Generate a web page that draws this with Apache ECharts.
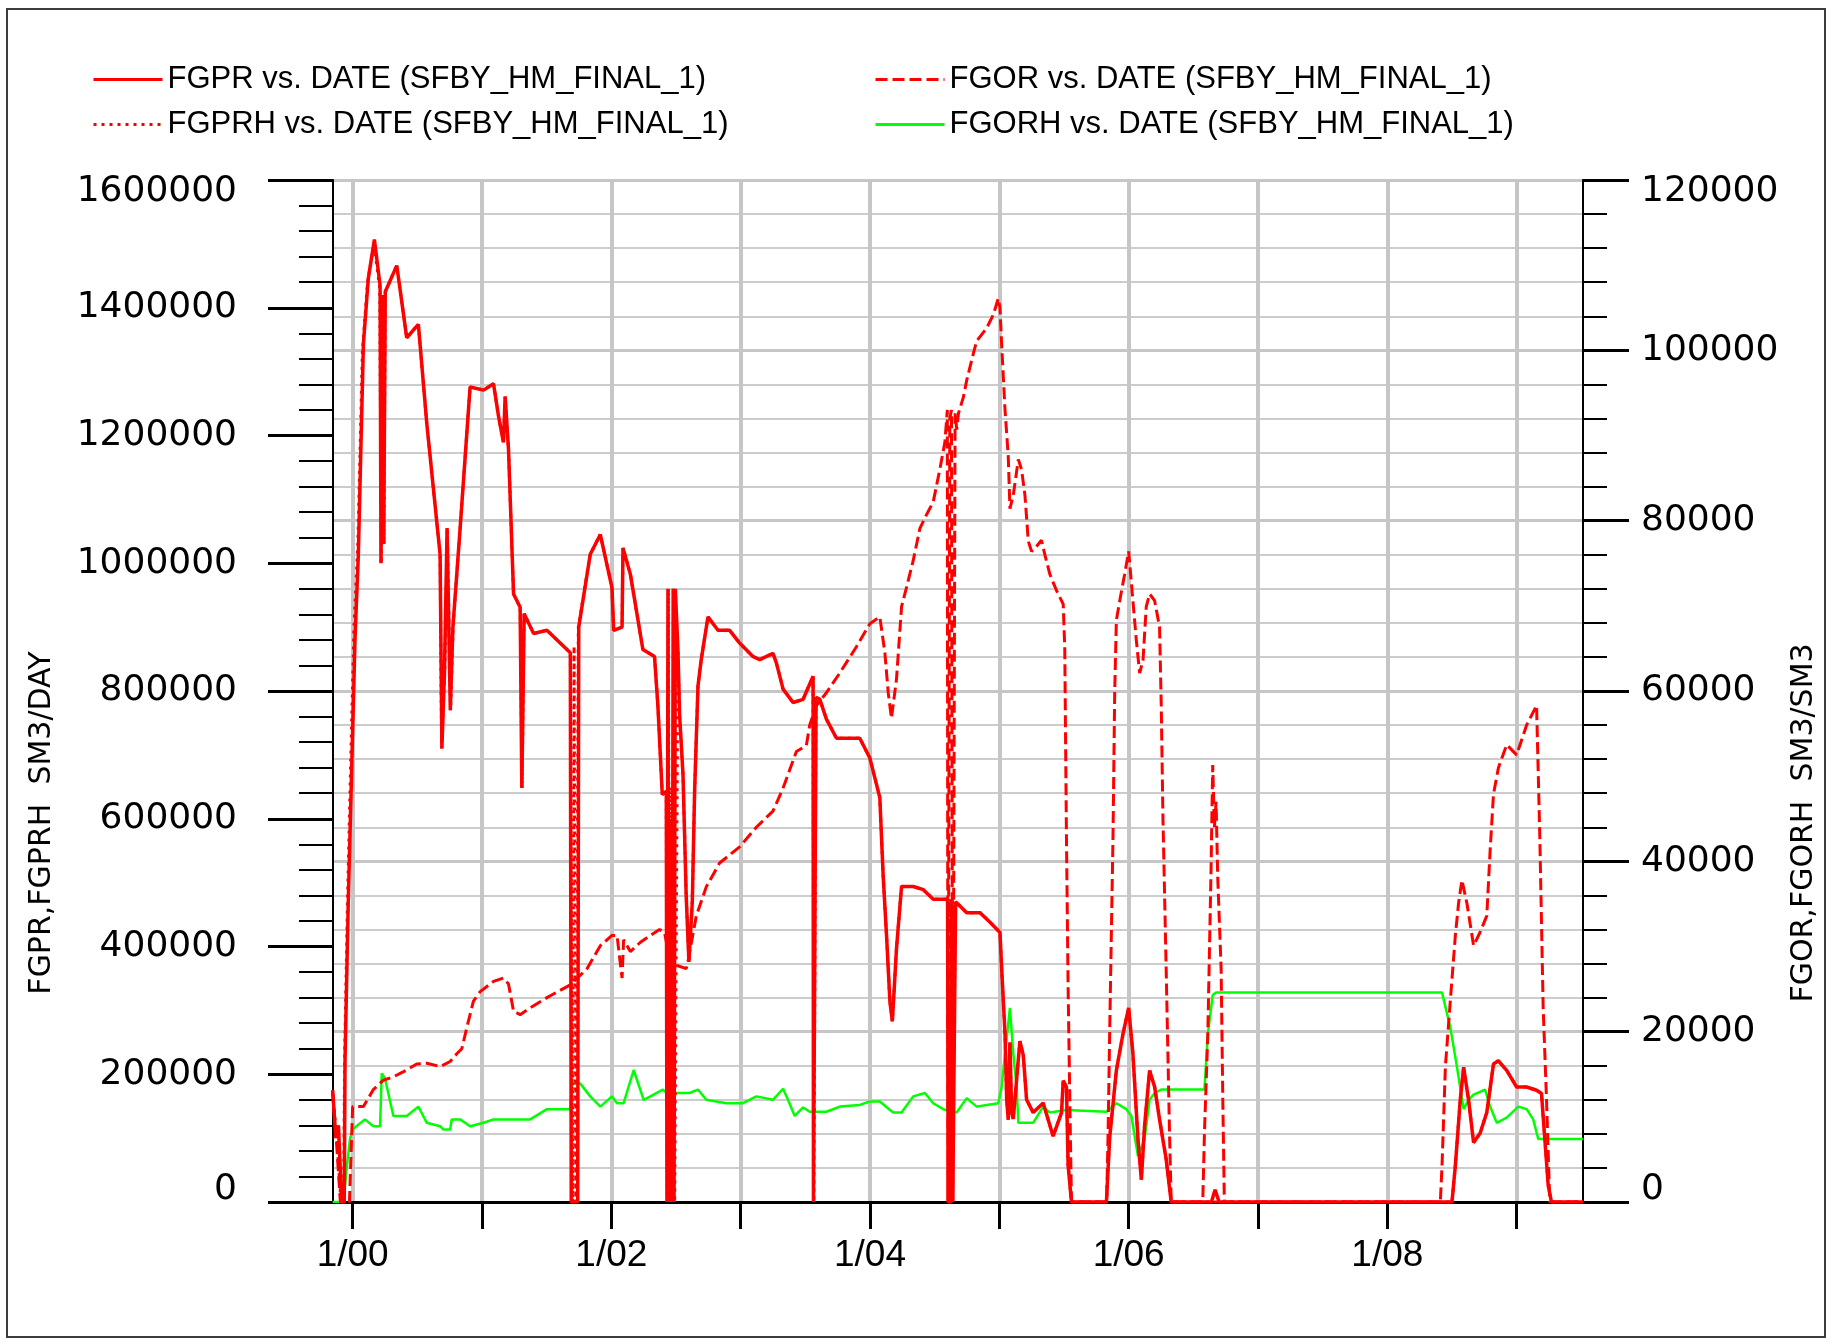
<!DOCTYPE html>
<html><head><meta charset="utf-8">
<script src="https://cdn.jsdelivr.net/npm/echarts@6/dist/echarts.min.js"></script>
<style>html,body{margin:0;padding:0;background:#fff}#chart{width:1832px;height:1340px}</style>
</head><body><div id="chart"></div>
<script>
// ---------- data (dates as decimal years) ----------
const seriesNames = ['FGPR vs. DATE (SFBY_HM_FINAL_1)', 'FGPRH vs. DATE (SFBY_HM_FINAL_1)', 'FGOR vs. DATE (SFBY_HM_FINAL_1)', 'FGORH vs. DATE (SFBY_HM_FINAL_1)'];
const leftAxisName = 'FGPR,FGPRH  SM3/DAY';
const rightAxisName = 'FGOR,FGORH  SM3/SM3';
const xMin = 1999.848, xMax = 2009.513;
const xTickYears = [2000, 2001, 2002, 2003, 2004, 2005, 2006, 2007, 2008, 2009];
const xLabelYears = [2000, 2002, 2004, 2006, 2008];
const xLabelTexts = ['1/00', '1/02', '1/04', '1/06', '1/08'];
const leftMax = 1600000, leftStep = 200000;
const rightMax = 120000, rightStep = 20000;

const fgprDates = [
1999.845, 1999.870, 1999.890, 1999.915, 1999.935, 1999.941, 1999.966, 1999.992, 2000.018, 2000.044,
2000.083, 2000.121, 2000.168, 2000.212, 2000.219, 2000.230, 2000.240, 2000.252, 2000.341, 2000.418,
2000.508, 2000.573, 2000.676, 2000.690, 2000.710, 2000.730, 2000.755, 2000.775, 2000.831, 2000.908,
2001.012, 2001.089, 2001.128, 2001.166, 2001.179, 2001.205, 2001.244, 2001.295, 2001.308, 2001.326,
2001.399, 2001.502, 2001.683, 2001.690, 2001.740, 2001.748, 2001.760, 2001.837, 2001.915, 2002.005,
2002.018, 2002.083, 2002.090, 2002.147, 2002.244, 2002.334, 2002.360, 2002.394, 2002.425, 2002.430,
2002.438, 2002.444, 2002.455, 2002.470, 2002.478, 2002.485, 2002.495, 2002.515, 2002.528, 2002.554,
2002.579, 2002.600, 2002.626, 2002.644, 2002.657, 2002.670, 2002.695, 2002.747, 2002.825, 2002.915,
2002.992, 2003.095, 2003.147, 2003.250, 2003.276, 2003.328, 2003.405, 2003.483, 2003.560, 2003.563,
2003.578, 2003.583, 2003.612, 2003.663, 2003.741, 2003.921, 2003.999, 2004.076, 2004.102, 2004.128,
2004.154, 2004.173, 2004.205, 2004.244, 2004.334, 2004.412, 2004.489, 2004.600, 2004.605, 2004.625,
2004.632, 2004.640, 2004.655, 2004.662, 2004.748, 2004.851, 2004.928, 2005.005, 2005.018, 2005.044,
2005.057, 2005.069, 2005.082, 2005.095, 2005.108, 2005.159, 2005.185, 2005.211, 2005.262, 2005.339,
2005.416, 2005.481, 2005.494, 2005.519, 2005.532, 2005.558, 2005.828, 2005.853, 2005.905, 2005.956,
2006.000, 2006.033, 2006.072, 2006.098, 2006.123, 2006.162, 2006.201, 2006.239, 2006.290, 2006.329,
2006.640, 2006.668, 2006.700, 2008.500, 2008.526, 2008.564, 2008.590, 2008.628, 2008.667, 2008.718,
2008.769, 2008.821, 2008.859, 2008.923, 2009.000, 2009.077, 2009.154, 2009.192, 2009.218, 2009.244,
2009.269, 2009.513];
const fgprValues = [
175000, 100000, 120000, 0, 0, 222000, 469000, 675000, 880000, 1014000,
1343000, 1446000, 1507000, 1435000, 1000000, 1420000, 1030000, 1425000, 1466000, 1353000,
1374000, 1219000, 1014000, 710000, 830000, 1055000, 770000, 900000, 1055000, 1276000,
1271000, 1281000, 1230000, 1189000, 1261000, 1178000, 952000, 931000, 648000, 921000,
890000, 895000, 860000, 0, 0, 900000, 900000, 1014000, 1045000, 962000,
895000, 900000, 1024000, 983000, 865000, 854000, 777000, 638000, 643000, 0,
960000, 0, 600000, 0, 960000, 0, 960000, 865000, 762000, 670000,
479000, 376000, 469000, 643000, 726000, 808000, 849000, 916000, 895000, 895000,
875000, 854000, 849000, 859000, 844000, 803000, 782000, 787000, 823000, 0,
0, 790000, 787000, 756000, 726000, 726000, 695000, 633000, 510000, 417000,
314000, 283000, 397000, 494000, 494000, 489000, 474000, 474000, 0, 0,
474000, 0, 0, 470000, 453000, 453000, 438000, 422000, 366000, 263000,
160000, 129000, 250000, 140000, 130000, 252000, 230000, 160000, 140000, 155000,
103000, 140000, 190000, 180000, 57000, 0, 0, 100000, 206000, 263000,
304000, 232000, 98000, 35000, 119000, 206000, 180000, 129000, 67000, 0,
0, 19000, 0, 0, 57000, 160000, 211000, 160000, 93000, 108000,
140000, 216000, 221000, 206000, 180000, 180000, 175000, 170000, 98000, 26000,
0, 0];

const fgprhDates = [
1999.845, 1999.880, 1999.910, 1999.930, 1999.938, 1999.960, 1999.985, 2000.010, 2000.040, 2000.075,
2000.115, 2000.165, 2000.210, 2000.221, 2000.232, 2000.242, 2000.252, 2000.341, 2000.418, 2000.508,
2000.573, 2000.676, 2000.688, 2000.712, 2000.732, 2000.757, 2000.777, 2000.831, 2000.908, 2001.012,
2001.089, 2001.128, 2001.166, 2001.179, 2001.205, 2001.244, 2001.295, 2001.310, 2001.326, 2001.399,
2001.502, 2001.683, 2001.700, 2001.712, 2001.725, 2001.745, 2001.760, 2001.837, 2001.915, 2002.005,
2002.018, 2002.083, 2002.090, 2002.147, 2002.244, 2002.334, 2002.360, 2002.394, 2002.425, 2002.433,
2002.441, 2002.450, 2002.462, 2002.474, 2002.482, 2002.490, 2002.515, 2002.528, 2002.554, 2002.579,
2002.600, 2002.626, 2002.644, 2002.657, 2002.670, 2002.695, 2002.747, 2002.825, 2002.915, 2002.992,
2003.095, 2003.147, 2003.250, 2003.276, 2003.328, 2003.405, 2003.483, 2003.560, 2003.566, 2003.575,
2003.583, 2003.612, 2003.663, 2003.741, 2003.921, 2003.999, 2004.076, 2004.102, 2004.128, 2004.154,
2004.173, 2004.205, 2004.244, 2004.334, 2004.412, 2004.489, 2004.600, 2004.610, 2004.620, 2004.635,
2004.648, 2004.662, 2004.748, 2004.851, 2004.928, 2005.005, 2005.018, 2005.044, 2005.057, 2005.069,
2005.082, 2005.095, 2005.108, 2005.159, 2005.185, 2005.211, 2005.262, 2005.339, 2005.416, 2005.481,
2005.494, 2005.519, 2005.532, 2005.558, 2005.828, 2005.853, 2005.905, 2005.956, 2006.000, 2006.033,
2006.072, 2006.098, 2006.123, 2006.162, 2006.201, 2006.239, 2006.290, 2006.329, 2008.500, 2008.526,
2008.564, 2008.590, 2008.628, 2008.667, 2008.718, 2008.769, 2008.821, 2008.859, 2008.923, 2009.000,
2009.077, 2009.154, 2009.192, 2009.218, 2009.244, 2009.269, 2009.513];
const fgprhValues = [
170000, 90000, 0, 0, 230000, 470000, 690000, 900000, 1030000, 1330000,
1440000, 1500000, 1430000, 1000000, 1420000, 1030000, 1425000, 1466000, 1353000, 1374000,
1219000, 1014000, 710000, 830000, 1055000, 770000, 900000, 1055000, 1276000, 1271000,
1281000, 1230000, 1189000, 1261000, 1178000, 952000, 931000, 648000, 921000, 890000,
895000, 860000, 0, 870000, 0, 900000, 900000, 1014000, 1045000, 962000,
895000, 900000, 1024000, 983000, 865000, 854000, 777000, 638000, 643000, 0,
960000, 0, 650000, 0, 960000, 0, 865000, 762000, 670000, 479000,
376000, 469000, 643000, 726000, 808000, 849000, 916000, 895000, 895000, 875000,
854000, 849000, 859000, 844000, 803000, 782000, 787000, 823000, 0, 0,
790000, 787000, 756000, 726000, 726000, 695000, 633000, 510000, 417000, 314000,
283000, 397000, 494000, 494000, 489000, 474000, 474000, 0, 474000, 0,
0, 470000, 453000, 453000, 438000, 422000, 366000, 263000, 160000, 129000,
250000, 140000, 130000, 252000, 230000, 160000, 140000, 155000, 103000, 140000,
190000, 180000, 57000, 0, 0, 100000, 206000, 263000, 304000, 232000,
98000, 35000, 119000, 206000, 180000, 129000, 67000, 0, 0, 57000,
160000, 211000, 160000, 93000, 108000, 140000, 216000, 221000, 206000, 180000,
180000, 175000, 170000, 98000, 26000, 0, 0];

const fgorDates = [
1999.845, 1999.875, 1999.905, 1999.975, 2000.000, 2000.083, 2000.160, 2000.237, 2000.315, 2000.418,
2000.495, 2000.573, 2000.676, 2000.754, 2000.805, 2000.844, 2000.883, 2000.934, 2000.986, 2001.089,
2001.166, 2001.205, 2001.244, 2001.295, 2001.373, 2001.502, 2001.683, 2001.812, 2001.915, 2002.005,
2002.044, 2002.083, 2002.095, 2002.147, 2002.225, 2002.302, 2002.373, 2002.412, 2002.437, 2002.445,
2002.460, 2002.476, 2002.502, 2002.579, 2002.592, 2002.657, 2002.734, 2002.837, 2002.992, 2003.121,
2003.250, 2003.328, 2003.431, 2003.508, 2003.534, 2003.586, 2003.663, 2003.766, 2003.895, 2003.999,
2004.076, 2004.115, 2004.141, 2004.166, 2004.205, 2004.244, 2004.283, 2004.334, 2004.386, 2004.437,
2004.489, 2004.541, 2004.579, 2004.598, 2004.603, 2004.612, 2004.617, 2004.630, 2004.640, 2004.650,
2004.658, 2004.671, 2004.684, 2004.722, 2004.748, 2004.799, 2004.825, 2004.902, 2004.954, 2004.992,
2005.005, 2005.018, 2005.044, 2005.069, 2005.082, 2005.108, 2005.147, 2005.172, 2005.198, 2005.224,
2005.249, 2005.288, 2005.326, 2005.352, 2005.391, 2005.442, 2005.494, 2005.506, 2005.519, 2005.532,
2005.545, 2005.558, 2005.830, 2005.841, 2005.853, 2005.879, 2005.892, 2005.905, 2005.931, 2005.969,
2006.000, 2006.033, 2006.059, 2006.085, 2006.111, 2006.136, 2006.162, 2006.201, 2006.239, 2006.252,
2006.265, 2006.290, 2006.316, 2006.329, 2006.573, 2006.586, 2006.612, 2006.637, 2006.650, 2006.663,
2006.676, 2006.689, 2006.715, 2006.728, 2006.740, 2008.410, 2008.423, 2008.449, 2008.487, 2008.526,
2008.551, 2008.577, 2008.615, 2008.667, 2008.718, 2008.769, 2008.795, 2008.821, 2008.859, 2008.923,
2009.000, 2009.077, 2009.154, 2009.179, 2009.205, 2009.231, 2009.256, 2009.513];
const fgorValues = [
13000, 7000, 0, 0, 11200, 11200, 13200, 14300, 14700, 15500,
16200, 16300, 15900, 16500, 17400, 18000, 20500, 23600, 24700, 25900,
26300, 25600, 22400, 22000, 22800, 24000, 25500, 27400, 30100, 31300,
31300, 26300, 30800, 29400, 30500, 31300, 32000, 31600, 29600, 19500,
28000, 28500, 27800, 27400, 28200, 33600, 37000, 39800, 41700, 44000,
45900, 48600, 52900, 53600, 56000, 58300, 59800, 62100, 65200, 67900,
68700, 64500, 59800, 56800, 61400, 69900, 72200, 75300, 79100, 80700,
82200, 86100, 89200, 93000, 0, 0, 92000, 93000, 0, 0,
92600, 90700, 92600, 94500, 96500, 99600, 101100, 102600, 104200, 106100,
105000, 100700, 93000, 87600, 81400, 83000, 87200, 86000, 83000, 77600,
76400, 77000, 77700, 76000, 73700, 71800, 70200, 65000, 42900, 25100,
12000, 0, 0, 8100, 19700, 42900, 59800, 68300, 70600, 73700,
76400, 70600, 66000, 62100, 63600, 69900, 71400, 70600, 67500, 58300,
45200, 27400, 8100, 0, 0, 8100, 19700, 39000, 51300, 44000,
47000, 38000, 27400, 12000, 0, 0, 4300, 15900, 23600, 31300,
35100, 37800, 35100, 30100, 31700, 33600, 41300, 47900, 51000, 53700,
52500, 56000, 58300, 42900, 22800, 12000, 0, 0];

const fgorhDates = [
1999.845, 1999.930, 1999.954, 1999.980, 2000.005, 2000.095, 2000.160, 2000.212, 2000.225, 2000.250,
2000.315, 2000.418, 2000.508, 2000.573, 2000.676, 2000.702, 2000.754, 2000.766, 2000.831, 2000.908,
2001.012, 2001.089, 2001.373, 2001.502, 2001.683, 2001.695, 2001.760, 2001.837, 2001.915, 2002.005,
2002.044, 2002.095, 2002.173, 2002.250, 2002.302, 2002.399, 2002.425, 2002.605, 2002.670, 2002.734,
2002.889, 2003.018, 2003.121, 2003.250, 2003.328, 2003.366, 2003.418, 2003.483, 2003.534, 2003.663,
2003.766, 2003.921, 2003.999, 2004.076, 2004.179, 2004.244, 2004.334, 2004.425, 2004.489, 2004.566,
2004.670, 2004.748, 2004.825, 2004.902, 2004.992, 2005.018, 2005.044, 2005.082, 2005.108, 2005.134,
2005.147, 2005.262, 2005.339, 2005.391, 2005.519, 2005.828, 2005.905, 2005.982, 2006.021, 2006.072,
2006.123, 2006.162, 2006.201, 2006.252, 2006.586, 2006.612, 2006.650, 2006.676, 2008.423, 2008.487,
2008.538, 2008.590, 2008.628, 2008.667, 2008.756, 2008.795, 2008.846, 2008.923, 2009.013, 2009.077,
2009.128, 2009.167, 2009.513];
const fgorhValues = [
0, 0, 4000, 7500, 8600, 9700, 8900, 8900, 15100, 14500,
10100, 10100, 11200, 9300, 8900, 8500, 8500, 9700, 9700, 8900,
9300, 9700, 9700, 10900, 10900, 13900, 13900, 12400, 11200, 12400,
11600, 11600, 15500, 12000, 12400, 13200, 12800, 12800, 13200, 12000,
11600, 11600, 12400, 12000, 13300, 12000, 10100, 11100, 10600, 10600,
11200, 11400, 11800, 11800, 10500, 10500, 12400, 12800, 11600, 10900,
10500, 12200, 11200, 11400, 11600, 13500, 17400, 22800, 17400, 13500,
9300, 9300, 11200, 10500, 10800, 10600, 11600, 10900, 10100, 5400,
7400, 12000, 12800, 13200, 13200, 19700, 24300, 24600, 24600, 20500,
15900, 10900, 12000, 12600, 13200, 11200, 9300, 9900, 11200, 10900,
9700, 7400, 7400];

// ---------- chart ----------
const pairs = (d, v) => d.map((x, i) => [x, v[i]]);
const RED = '#ff0000', GREEN = '#00ff00', GRID = '#c6c6c6';
const tickFontFamily = 'DejaVu Sans';
const tickFontSize = 36;
const chart = echarts.init(document.getElementById('chart'), null, { renderer: 'canvas' });

function yLabel(max) {
  return function (v) {
    if (v === max) return '{t|' + v + '}';
    if (v === 0) return '{b|0}';
    return String(v);
  };
}
const labelRich = {
  t: { padding: [24, 0, 0, 0], fontFamily: tickFontFamily, fontSize: tickFontSize, color: '#000' },
  b: { padding: [0, 0, 24, 0], fontFamily: tickFontFamily, fontSize: tickFontSize, color: '#000' }
};
const legendText = { fontFamily: 'Liberation Sans', fontSize: 31, color: '#000', lineHeight: 31 };
const legendCommon = {
  orient: 'vertical', top: 64, padding: 0, itemWidth: 69, itemHeight: 14, itemGap: 14,
  selectedMode: false, textStyle: legendText,
  itemStyle: { color: 'rgba(0,0,0,0)', borderWidth: 0, opacity: 0 },
  lineStyle: { width: 3 }
};

const option = {
  animation: false,
  backgroundColor: '#ffffff',
  grid: { left: 333, right: 249, top: 180, bottom: 138, outerBoundsMode: 'none', containLabel: false },
  legend: [
    Object.assign({}, legendCommon, { left: 92, data: [seriesNames[0], seriesNames[1]] }),
    Object.assign({}, legendCommon, { left: 874, data: [seriesNames[2], seriesNames[3]] })
  ],
  xAxis: {
    type: 'value', min: xMin, max: xMax,
    axisLine: { show: true, onZero: false, lineStyle: { color: '#000', width: 3 } },
    axisTick: { show: true, customValues: xTickYears, length: 27, lineStyle: { color: '#000', width: 3 } },
    axisLabel: {
      show: true, customValues: xLabelYears, margin: 35,
      formatter: v => xLabelTexts[xLabelYears.indexOf(Math.round(v))],
      fontFamily: 'Liberation Sans', fontSize: 37, color: '#000'
    },
    splitLine: { show: true, lineStyle: { color: GRID, width: 4 } }
  },
  yAxis: [
    {
      type: 'value', position: 'left', min: 0, max: leftMax, interval: leftStep,
      axisLine: { show: true, lineStyle: { color: '#000', width: 2 } },
      axisTick: { show: true, length: 65, lineStyle: { color: '#000', width: 3 } },
      minorTick: { show: true, splitNumber: 5, length: 34, lineStyle: { color: '#000', width: 2 } },
      splitLine: { show: false }, minorSplitLine: { show: false },
      axisLabel: { margin: 96, formatter: yLabel(leftMax), rich: labelRich,
        fontFamily: tickFontFamily, fontSize: tickFontSize, color: '#000' },
      name: leftAxisName, nameLocation: 'middle', nameRotate: 90, nameGap: 276,
      nameTextStyle: { fontFamily: tickFontFamily, fontSize: 30, color: '#000', padding: [0, 264, 0, 0] }
    },
    {
      type: 'value', position: 'right', min: 0, max: rightMax, interval: rightStep,
      axisLine: { show: true, lineStyle: { color: '#000', width: 2 } },
      axisTick: { show: true, length: 46, lineStyle: { color: '#000', width: 3 } },
      minorTick: { show: true, splitNumber: 5, length: 24, lineStyle: { color: '#000', width: 2 } },
      splitLine: { show: true, lineStyle: { color: GRID, width: 3 } },
      minorSplitLine: { show: true, lineStyle: { color: '#cccccc', width: 2 } },
      axisLabel: { margin: 58, formatter: yLabel(rightMax), rich: labelRich,
        fontFamily: tickFontFamily, fontSize: tickFontSize, color: '#000' },
      name: rightAxisName, nameLocation: 'middle', nameRotate: 90, nameGap: 178,
      nameTextStyle: { fontFamily: tickFontFamily, fontSize: 30, color: '#000', padding: [0, 264, 0, 0] }
    }
  ],
  series: [
    { name: seriesNames[3], type: 'line', yAxisIndex: 1, z: 3, data: pairs(fgorhDates, fgorhValues),
      symbol: 'none', showSymbol: false, emphasis: { disabled: true },
      lineStyle: { color: GREEN, width: 2.5 }, itemStyle: { color: GREEN } },
    { name: seriesNames[2], type: 'line', yAxisIndex: 1, z: 4, data: pairs(fgorDates, fgorValues),
      symbol: 'none', showSymbol: false, emphasis: { disabled: true },
      lineStyle: { color: RED, width: 3, type: [12, 5] }, itemStyle: { color: RED } },
    { name: seriesNames[1], type: 'line', yAxisIndex: 0, z: 5, data: pairs(fgprhDates, fgprhValues),
      symbol: 'none', showSymbol: false, emphasis: { disabled: true },
      lineStyle: { color: RED, width: 3, type: [3, 5] }, itemStyle: { color: RED } },
    { name: seriesNames[0], type: 'line', yAxisIndex: 0, z: 6, data: pairs(fgprDates, fgprValues),
      symbol: 'none', showSymbol: false, emphasis: { disabled: true },
      lineStyle: { color: RED, width: 3.5 }, itemStyle: { color: RED } }
  ],
  graphic: [
    { type: 'rect', silent: true, z: -1, shape: { x: 7, y: 9, width: 1818, height: 1328 },
      style: { fill: 'none', stroke: '#3c3c3c', lineWidth: 2 } }
  ]
};
chart.setOption(option);
</script>
</body></html>
